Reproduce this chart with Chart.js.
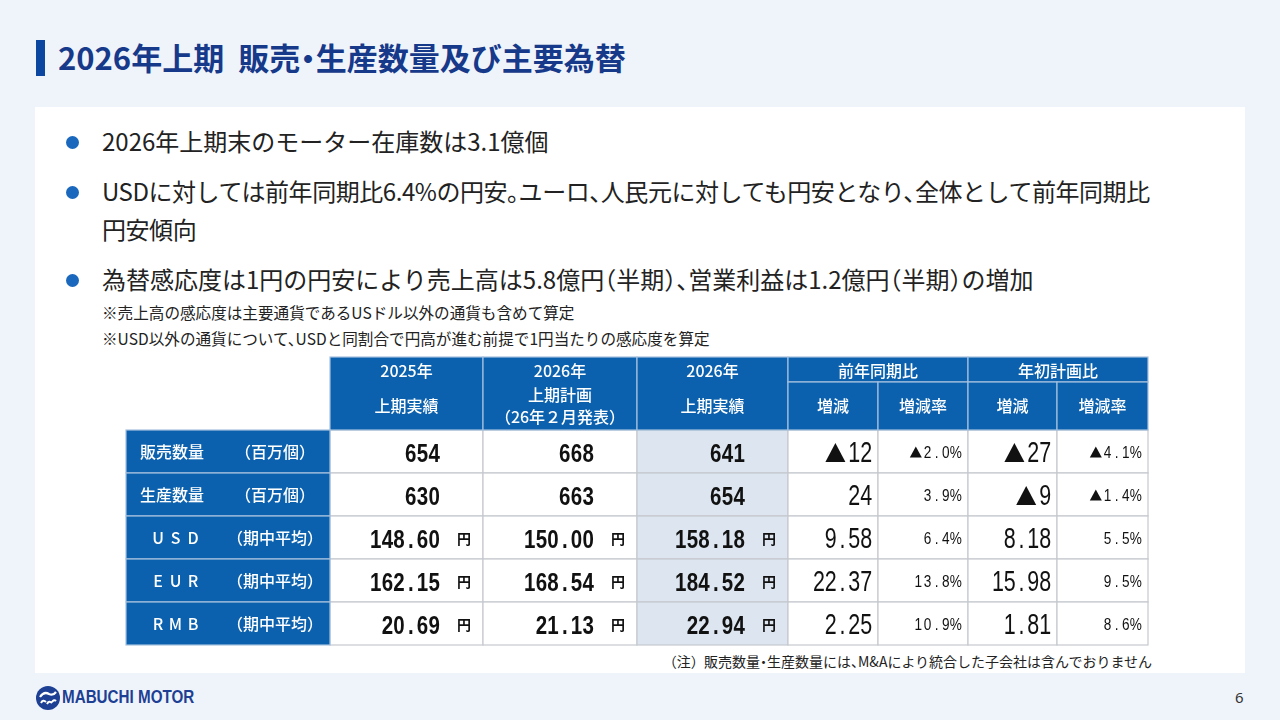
<!DOCTYPE html>
<html lang="ja">
<head>
<meta charset="utf-8">
<script src="https://cdn.jsdelivr.net/npm/chart.js@4.4.1/dist/chart.umd.min.js"></script>
<style>
  html,body{margin:0;padding:0;}
  body{width:1280px;height:720px;background:#eff4fb;position:relative;overflow:hidden;
       font-family:"Noto Sans CJK JP",sans-serif;color:#222;}
  .titlebar{position:absolute;left:36px;top:40px;width:9px;height:36px;background:#0b47a0;}
  .title{position:absolute;left:58px;top:35px;font-size:31px;font-weight:700;color:#17398a;line-height:44px;white-space:nowrap;font-feature-settings:"halt";}
  .panel{position:absolute;left:35px;top:107px;width:1210px;height:566px;background:#fff;}
  .dot{position:absolute;width:13px;height:13px;border-radius:50%;background:#1a68bd;}
  .txt{position:absolute;left:102px;font-size:24px;line-height:38px;white-space:nowrap;color:#222;font-feature-settings:"halt";}
  .note{position:absolute;left:102px;font-size:15.6px;line-height:20px;white-space:nowrap;color:#222;font-feature-settings:"halt";}
  .foot{position:absolute;right:128px;top:651px;font-size:14px;line-height:20px;white-space:nowrap;color:#222;font-feature-settings:"halt";}
  .page{position:absolute;left:1235px;top:687px;font-size:15px;color:#333;font-family:"Noto Sans",sans-serif;}
  .logo{position:absolute;left:35px;top:685px;height:26px;}
  .logotext{position:absolute;left:62px;top:684px;font-family:"Liberation Sans",sans-serif;font-weight:700;font-size:19px;
            color:#1d3f94;transform:scaleX(0.8);transform-origin:left center;white-space:nowrap;line-height:26px;}
  #wrap{position:absolute;left:124px;top:355px;width:1026px;height:292px;}
</style>
</head>
<body>
<div class="titlebar"></div>
<div class="title">2026年上期&nbsp; 販売・生産数量及び主要為替</div>
<div class="panel"></div>

<div class="dot" style="left:66px;top:136px;"></div>
<div class="txt" style="top:122px;">2026年上期末のモーター在庫数は3.1億個</div>
<div class="dot" style="left:66px;top:186px;"></div>
<div class="txt" style="top:172px;letter-spacing:-0.45px;">USDに対しては前年同期比6.4%の円安。ユーロ、人民元に対しても円安となり、全体として前年同期比<br>円安傾向</div>
<div class="dot" style="left:66px;top:274px;"></div>
<div class="txt" style="top:260px;">為替感応度は1円の円安により売上高は5.8億円（半期）、営業利益は1.2億円（半期）の増加</div>
<div class="note" style="top:302px;">※売上高の感応度は主要通貨であるUSドル以外の通貨も含めて算定</div>
<div class="note" style="top:328px;">※USD以外の通貨について、USDと同割合で円高が進む前提で1円当たりの感応度を算定</div>

<div id="wrap"><canvas id="c"></canvas></div>

<div class="foot">（注）&nbsp; 販売数量・生産数量には、M&amp;Aにより統合した子会社は含んでおりません</div>

<svg class="logo" width="26" height="26" viewBox="0 0 26 26">
  <circle cx="13" cy="13" r="12" fill="#1d3f94"/>
  <path d="M5 12 q4 -6 9 -3 q4 2 7 -2" stroke="#fff" stroke-width="2.2" fill="none"/>
  <path d="M6 18 q2 -4 5 -1 M12 19 q2 -4 5 -1 M17 17 q2 -3 4 -1" stroke="#fff" stroke-width="2" fill="none"/>
</svg>
<div class="logotext">MABUCHI MOTOR</div>
<div class="page">6</div>

<script>
// ---------- data ----------
const rowLabels   = ['販売数量', '生産数量', 'USD', 'EUR', 'RMB'];
const rowUnits    = ['（百万個）', '（百万個）', '（期中平均）', '（期中平均）', '（期中平均）'];
const rowDecimals = [0, 0, 2, 2, 2];
const actual2025  = [654, 630, 148.60, 162.15, 20.69];
const plan2026    = [668, 663, 150.00, 168.54, 21.13];
const actual2026  = [641, 654, 158.18, 184.52, 22.94];
const yoyDiff     = [-12, 24, 9.58, 22.37, 2.25];
const yoyRate     = [-2.0, 3.9, 6.4, 13.8, 10.9];
const planDiff    = [-27, -9, 8.18, 15.98, 1.81];
const planRate    = [-4.1, -1.4, 5.5, 9.5, 8.6];
const colHeaders  = [
  ['2025年', '上期実績'],
  ['2026年', '上期計画', '（26年２月発表）'],
  ['2026年', '上期実績']
];
const groupHeaders = ['前年同期比', '年初計画比'];
const subHeaders   = ['増減', '増減率', '増減', '増減率'];
const yenUnit = '円';

// ---------- layout (table units) ----------
const colWidths  = [204, 153, 154, 151, 90, 90, 89, 91];
const rowHeights = [25, 48, 43, 43, 43, 43, 43];
const colEdges = [0]; colWidths.forEach(w => colEdges.push(colEdges[colEdges.length - 1] + w));
const rowEdges = [0]; rowHeights.forEach(h => rowEdges.push(rowEdges[rowEdges.length - 1] + h));

const BLUE = '#0b61ae', LIGHT = '#dde6f0', GRID = '#c5c9ce', BLUELINE = '#a6c1de';
const JP = '"Noto Sans CJK JP", sans-serif';
const NUM = '"Liberation Sans", Arial, sans-serif';

function fmtValue(v, d) { return v.toFixed(d); }
function fmtDiff(v, d) { return (v < 0 ? '▲' : '') + Math.abs(v).toFixed(d); }
function fmtRate(v) { return (v < 0 ? '▲' : '') + Math.abs(v).toFixed(1) + '%'; }

function drawMono(ctx, str, right, baseline, o) {
  const chars = Array.from(str);
  const wOf = ch => ch === '▲' ? o.triW + o.gap : (ch === '%' ? o.adv * 1.15 : o.adv);
  let total = chars.reduce((s, ch) => s + wOf(ch), 0);
  let x = right - total;
  ctx.font = o.font;
  ctx.textAlign = 'center';
  ctx.textBaseline = 'alphabetic';
  for (const ch of chars) {
    const w = wOf(ch);
    if (ch === '▲') {
      ctx.beginPath();
      ctx.moveTo(x, baseline);
      ctx.lineTo(x + o.triW, baseline);
      ctx.lineTo(x + o.triW / 2, baseline - o.triH);
      ctx.closePath();
      ctx.fill();
    } else {
      ctx.save();
      ctx.translate(x + w / 2, baseline);
      ctx.scale(o.sx, 1);
      ctx.fillText(ch, 0, 0);
      ctx.restore();
    }
    x += w;
  }
}

const tablePlugin = {
  id: 'table',
  afterDraw(chart) {
    const ctx = chart.ctx;
    const xs = chart.scales.x, ys = chart.scales.y;
    const X = v => xs.getPixelForValue(v);
    const Y = v => ys.getPixelForValue(v);
    const cell = (c0, c1, r0, r1) => ({ x: X(colEdges[c0]), y: Y(rowEdges[r0]), w: X(colEdges[c1]) - X(colEdges[c0]), h: Y(rowEdges[r1]) - Y(rowEdges[r0]) });
    const fillCell = (c, color, line) => {
      ctx.fillStyle = color; ctx.fillRect(c.x, c.y, c.w, c.h);
      ctx.strokeStyle = line; ctx.lineWidth = 1.2; ctx.strokeRect(c.x, c.y, c.w, c.h);
    };
    ctx.save();
    for (let r = 0; r < rowLabels.length; r++) {
      for (let c = 1; c < colWidths.length; c++) {
        fillCell(cell(c, c + 1, r + 2, r + 3), c === 3 ? LIGHT : '#ffffff', GRID);
      }
    }
    for (let c = 1; c <= 3; c++) fillCell(cell(c, c + 1, 0, 2), BLUE, BLUELINE);
    fillCell(cell(4, 6, 0, 1), BLUE, BLUELINE);
    fillCell(cell(6, 8, 0, 1), BLUE, BLUELINE);
    for (let c = 4; c < 8; c++) fillCell(cell(c, c + 1, 1, 2), BLUE, BLUELINE);
    for (let r = 0; r < rowLabels.length; r++) fillCell(cell(0, 1, r + 2, r + 3), BLUE, BLUELINE);

    // header text
    ctx.fillStyle = '#ffffff';
    ctx.textAlign = 'center'; ctx.textBaseline = 'middle';
    ctx.font = '500 16px ' + JP;
    colHeaders.forEach((lines, i) => {
      const c = i + 1;
      const a = cell(c, c + 1, 0, 1), b = cell(c, c + 1, 1, 2);
      const cx = a.x + a.w / 2;
      ctx.fillText(lines[0], cx, a.y + a.h / 2 + 1);
      const rest = lines.slice(1);
      const gapL = 22;
      rest.forEach((t, k) => {
        const yy = b.y + b.h / 2 + (k - (rest.length - 1) / 2) * gapL;
        ctx.fillText(t, cx, yy);
      });
    });
    groupHeaders.forEach((t, g) => {
      const a = cell(4 + g * 2, 6 + g * 2, 0, 1);
      ctx.fillText(t, a.x + a.w / 2, a.y + a.h / 2 + 1);
    });
    subHeaders.forEach((t, i) => {
      const a = cell(4 + i, 5 + i, 1, 2);
      ctx.fillText(t, a.x + a.w / 2, a.y + a.h / 2);
    });

    // row headers
    rowLabels.forEach((lab, r) => {
      const a = cell(0, 1, r + 2, r + 3);
      const cy = a.y + a.h / 2;
      ctx.fillStyle = '#ffffff';
      ctx.textBaseline = 'middle';
      ctx.font = '500 16px ' + JP;
      if (rowDecimals[r] === 0) {
        ctx.textAlign = 'left';
        ctx.fillText(lab, a.x + 14, cy);
      } else {
        ctx.textAlign = 'center';
        Array.from(lab).forEach((ch, k) => ctx.fillText(ch, a.x + 32 + k * 17.5, cy));
      }
      ctx.textAlign = 'center';
      ctx.fillText(rowUnits[r], a.x + 149, cy);
    });

    // values
    const boldOpt = { font: 'bold 25px ' + NUM, adv: 11.7, sx: 0.82, triW: 18, triH: 17, gap: 3 };
    const bigOpt  = { font: '29px ' + NUM, adv: 11.8, sx: 0.74, triW: 20, triH: 19, gap: 3 };
    const smlOpt  = { font: '17px ' + NUM, adv: 9.2, sx: 0.8, triW: 12, triH: 11, gap: 1 };
    const valueCols = [actual2025, plan2026, actual2026];
    ctx.fillStyle = '#111111';
    for (let r = 0; r < rowLabels.length; r++) {
      const d = rowDecimals[r];
      valueCols.forEach((arr, i) => {
        const a = cell(i + 1, i + 2, r + 2, r + 3);
        const cy = a.y + a.h / 2;
        drawMono(ctx, fmtValue(arr[r], d), a.x + a.w - 43, cy + 10, boldOpt);
        if (d > 0) {
          ctx.font = 'bold 14px ' + JP; ctx.textAlign = 'center'; ctx.textBaseline = 'middle';
          ctx.fillText(yenUnit, a.x + a.w - 19, cy + 1);
        }
      });
      [[yoyDiff, 4], [planDiff, 6]].forEach(([arr, c]) => {
        const a = cell(c, c + 1, r + 2, r + 3);
        drawMono(ctx, fmtDiff(arr[r], d), a.x + a.w - 6, a.y + a.h / 2 + 10.5, bigOpt);
      });
      [[yoyRate, 5], [planRate, 7]].forEach(([arr, c]) => {
        const a = cell(c, c + 1, r + 2, r + 3);
        drawMono(ctx, fmtRate(arr[r]), a.x + a.w - 7, a.y + a.h / 2 + 6, smlOpt);
      });
    }
    ctx.restore();
  }
};

new Chart(document.getElementById('c'), {
  type: 'scatter',
  data: { datasets: [] },
  options: {
    responsive: true,
    maintainAspectRatio: false,
    animation: false,
    layout: { padding: 2 },
    plugins: { legend: { display: false }, tooltip: { enabled: false } },
    scales: {
      x: { type: 'linear', display: false, min: 0, max: colEdges[colEdges.length - 1] },
      y: { type: 'linear', display: false, min: 0, max: rowEdges[rowEdges.length - 1], reverse: true }
    }
  },
  plugins: [tablePlugin]
});
</script>
</body>
</html>
